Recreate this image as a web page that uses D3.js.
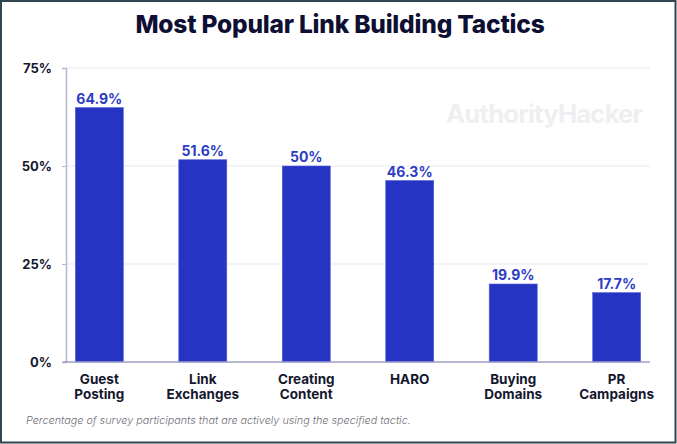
<!DOCTYPE html>
<html>
<head>
<meta charset="utf-8">
<script src="https://cdn.jsdelivr.net/npm/d3@7"></script>
<style>
  html, body { margin: 0; padding: 0; background: #fff; }
  svg { display: block; }
</style>
</head>
<body>
<svg id="chart" width="677" height="444"></svg>
<script>
const categories = [["Guest", "Posting"], ["Link", "Exchanges"], ["Creating", "Content"], ["HARO"], ["Buying", "Domains"], ["PR", "Campaigns"]];
const values = [64.9, 51.6, 50, 46.3, 19.9, 17.7];
const valueLabels = ["64.9%", "51.6%", "50%", "46.3%", "19.9%", "17.7%"];
const yTicks = [0, 25, 50, 75];
const yTickLabels = ["0%", "25%", "50%", "75%"];
const title = "Most Popular Link Building Tactics";
const footnote = "Percentage of survey participants that are actively using the specified tactic.";
const watermark = "AuthorityHacker";

const svg = d3.select("#chart");
const W = 677, H = 444;
const font = "Inter, 'Open Sans', sans-serif";

// border
svg.append("rect").attr("x", 1).attr("y", 1).attr("width", W - 2.5).attr("height", H - 2.5)
  .attr("fill", "#fff").attr("stroke", "#2f4550").attr("stroke-width", 2);

// title
svg.append("text").attr("x", 340).attr("y", 33).attr("text-anchor", "middle")
  .attr("font-family", font).attr("font-weight", 800).attr("font-size", 24.5)
  .attr("letter-spacing", -0.2).attr("fill", "#0d0f33").text(title);

// watermark
svg.append("text").attr("x", 446).attr("y", 123)
  .attr("font-family", font).attr("font-weight", 700).attr("font-size", 25.8)
  .attr("letter-spacing", -0.9).attr("fill", "#efeff2").text(watermark);

const x = d3.scaleBand().domain(d3.range(categories.length)).range([66, 650])
  .paddingInner(0.536).paddingOuter(0.09);
const y = d3.scaleLinear().domain([0, 75]).range([362, 68]);

// gridlines
svg.append("g").selectAll("line").data(yTicks.filter(d => d > 0)).join("line")
  .attr("x1", 66).attr("x2", 650).attr("y1", d => y(d)).attr("y2", d => y(d))
  .attr("stroke", "#e9e9ef").attr("stroke-width", 1);

// y axis
const yAxis = d3.axisLeft(y).tickValues(yTicks).tickSize(4).tickPadding(10)
  .tickFormat((d, i) => yTickLabels[i]);
const gy = svg.append("g").attr("transform", "translate(66,0)").call(yAxis);
gy.select(".domain").attr("stroke", "#b7b6d2").attr("stroke-width", 1.5);
gy.selectAll(".tick line").attr("stroke", "#b7b6d2");
gy.selectAll(".tick text").attr("font-family", font).attr("font-weight", 700)
  .attr("font-size", 13).attr("fill", "#15172e");

// bars
svg.append("g").selectAll("rect").data(values).join("rect")
  .attr("x", (d, i) => x(i)).attr("width", x.bandwidth())
  .attr("y", d => y(d)).attr("height", d => y(0) - y(d))
  .attr("fill", "#2634c4").attr("stroke", "#5560d6").attr("stroke-width", 0.6);

// value labels
svg.append("g").selectAll("text").data(values).join("text")
  .attr("x", (d, i) => x(i) + x.bandwidth() / 2).attr("y", d => y(d) - 4)
  .attr("text-anchor", "middle").attr("font-family", font).attr("font-weight", 700)
  .attr("font-size", 14).attr("fill", "#2c3cc4").text((d, i) => valueLabels[i]);

// x axis line
const xAxis = d3.axisBottom(x).tickSize(0).tickFormat("");
const gx = svg.append("g").attr("transform", "translate(0,362)").call(xAxis);
gx.select(".domain").attr("stroke", "#9f9ec4").attr("stroke-width", 1.5)
  .attr("d", "M63,0H650");

// x labels
const lbl = svg.append("g").selectAll("text").data(categories).join("text")
  .attr("text-anchor", "middle").attr("font-family", font).attr("font-weight", 700)
  .attr("font-size", 13.5).attr("fill", "#15172e");
lbl.each(function(d, i) {
  const t = d3.select(this);
  d.forEach((line, j) => {
    t.append("tspan").attr("x", x(i) + x.bandwidth() / 2).attr("y", 384 + j * 15).text(line);
  });
});

// footnote
svg.append("text").attr("x", 26).attr("y", 424)
  .attr("font-family", font).attr("font-style", "italic").attr("font-weight", 300)
  .attr("font-size", 10.8).attr("fill", "#6f6f78").text(footnote);
</script>
</body>
</html>
